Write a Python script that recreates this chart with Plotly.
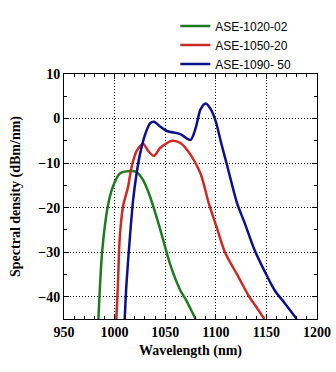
import plotly.graph_objects as go

green_x = [984, 987.7, 993.3, 998.3, 1005, 1015, 1021.7, 1028.3, 1035, 1045, 1055, 1065, 1070, 1080]
green_y = [-45, -29.9, -19.7, -15.3, -12.4, -11.8, -12.0, -13.9, -17.5, -24.8, -32.8, -38.6, -40.5, -45]

red_x = [1001.7, 1003.3, 1005, 1008.3, 1013.3, 1016.7, 1021.7, 1028.3, 1033.3, 1039, 1045, 1056.7, 1065, 1075, 1085, 1093, 1101, 1109, 1121, 1133, 1140, 1148]
red_y = [-45, -37.2, -27, -19.8, -15.3, -11, -7.3, -5.7, -7.3, -8.4, -6.6, -5.0, -5.5, -8.1, -12.4, -19, -24.5, -30, -35, -40, -42.3, -45]

blue_x = [1010, 1011.7, 1015, 1018.3, 1021.7, 1025, 1030, 1035, 1039, 1045, 1051.7, 1065, 1075, 1080, 1085, 1090, 1095, 1100, 1105, 1111.7, 1121, 1128.3, 1138.3, 1148.3, 1158.3, 1168.3, 1180]
blue_y = [-45, -37.2, -27, -18.3, -12.4, -8.1, -3.7, -1.1, -0.7, -1.8, -2.8, -3.5, -4.8, -2.2, 2.1, 3.4, 2.1, -0.7, -5.2, -11, -19, -23.3, -29.5, -34.3, -38.6, -41.5, -45]

names = ["ASE-1020-02", "ASE-1050-20", "ASE-1090- 50"]
colors = ["#1f7a22", "#cc2a26", "#0e108a"]

fig = go.Figure()
for xs, ys, n, c in zip([green_x, red_x, blue_x], [green_y, red_y, blue_y], names, colors):
    fig.add_trace(go.Scatter(x=xs, y=ys, mode="lines", name=n,
                             line=dict(color=c, width=2.5, shape="spline", smoothing=0.8)))

tickfont = dict(family="Liberation Serif", size=14, color="black")
axis_common = dict(
    showline=True, linecolor="black", linewidth=1, mirror="allticks",
    ticks="inside", ticklen=5, tickcolor="black", tickwidth=1,
    showgrid=True, gridcolor="black", griddash="1px,2px", gridwidth=1,
    zeroline=False, tickfont=tickfont, automargin=False,
)
fig.update_xaxes(range=[950, 1200], dtick=50, tick0=950,
                 minor=dict(dtick=10, ticks="inside", ticklen=3, tickcolor="black", showgrid=False),
                 title=dict(text="<b>Wavelength (nm)</b>", font=dict(family="Liberation Serif", size=14, color="black"), standoff=6),
                 tickprefix="<b>", ticksuffix="</b>", **axis_common)
fig.update_yaxes(range=[-45, 10], dtick=10, tick0=0,
                 minor=dict(dtick=5, ticks="inside", ticklen=3, tickcolor="black", showgrid=False),
                 title=dict(text="<b>Spectral density (dBm/nm)</b>", font=dict(family="Liberation Serif", size=14, color="black"), standoff=14),
                 tickprefix="<b>", ticksuffix="</b>", **axis_common)

fig.update_layout(
    width=336, height=372,
    margin=dict(l=64, r=19, t=67, b=53),
    plot_bgcolor="white", paper_bgcolor="white",
    legend=dict(x=0.44, y=1.255, xanchor="left", yanchor="top",
                font=dict(family="Liberation Sans", size=12, color="black"),
                bgcolor="rgba(0,0,0,0)", tracegroupgap=0, itemwidth=30),
    showlegend=True,
)
fig.write_html("out.html")
